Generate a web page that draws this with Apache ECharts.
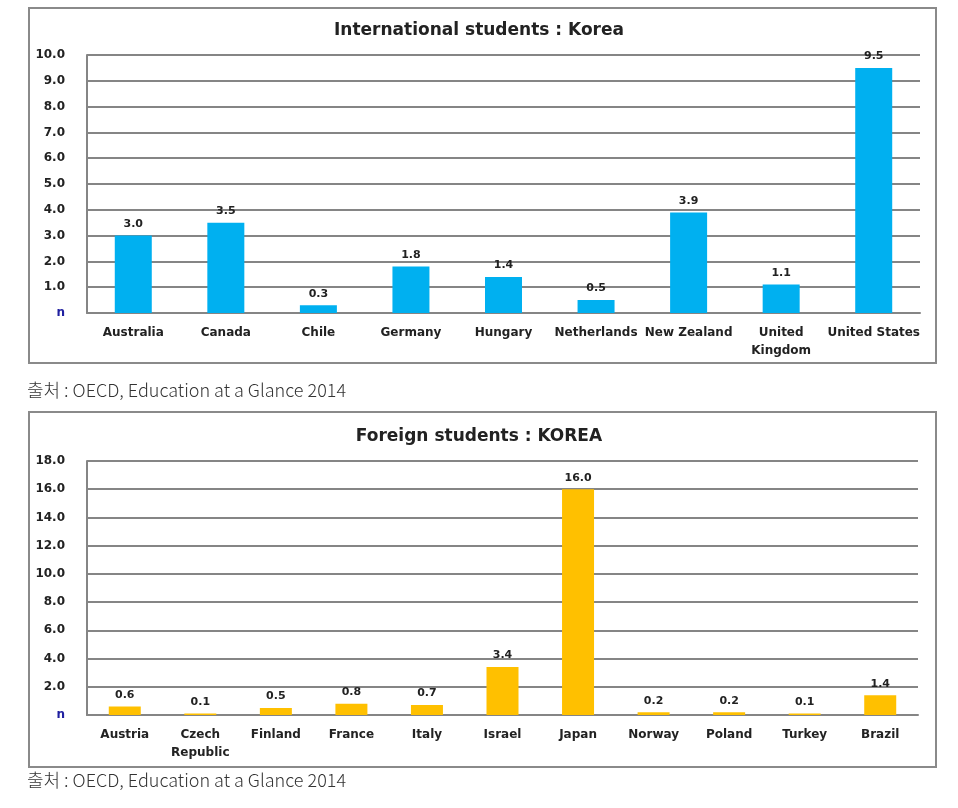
<!DOCTYPE html>
<html>
<head>
<meta charset="utf-8">
<script src="https://cdn.jsdelivr.net/npm/echarts@6/dist/echarts.min.js"></script>
<style>
  html, body { margin: 0; padding: 0; background: #fff; }
  #chart { width: 958px; height: 808px; }
</style>
</head>
<body>
<div id="chart"></div>
<script>
// two bar charts stacked, each in its own grey box with a source line below
const intlCountries = ['Australia', 'Canada', 'Chile', 'Germany', 'Hungary', 'Netherlands', 'New Zealand', 'United\nKingdom', 'United States'];
const intlValues = [3.0, 3.5, 0.3, 1.8, 1.4, 0.5, 3.9, 1.1, 9.5];
const foreignCountries = ['Austria', 'Czech\nRepublic', 'Finland', 'France', 'Italy', 'Israel', 'Japan', 'Norway', 'Poland', 'Turkey', 'Brazil'];
const foreignValues = [0.6, 0.1, 0.5, 0.8, 0.7, 3.4, 16.0, 0.2, 0.2, 0.1, 1.4];
const titles = ['International students : Korea', 'Foreign students : KOREA'];
const sourceText = '출처 : OECD, Education at a Glance 2014';

const font = 'DejaVu Sans';
const gridCol = '#858585';

const chart = echarts.init(document.getElementById('chart'));

const yAxisBase = (gridIndex, max, interval) => ({
    type: 'value',
    gridIndex: gridIndex,
    min: 0,
    max: max,
    interval: interval,
    axisLine: { show: true, lineStyle: { color: gridCol, width: 2 } },
    axisTick: { show: false },
    splitLine: { lineStyle: { color: gridCol, width: 2 } },
    axisLabel: {
        margin: 22,
        fontFamily: font,
        fontWeight: 'bold',
        fontSize: 12,
        color: '#222',
        formatter: v => v === 0 ? '{n|n}' : v.toFixed(1),
        rich: { n: { color: '#2020a0', fontWeight: 'bold', fontSize: 12, fontFamily: font } }
    }
});

const xAxisBase = (gridIndex, data) => ({
    type: 'category',
    gridIndex: gridIndex,
    data: data,
    axisLine: { show: true, lineStyle: { color: gridCol, width: 2 } },
    axisTick: { show: false },
    axisLabel: {
        margin: 11,
        interval: 0,
        fontFamily: font,
        fontWeight: 'bold',
        fontSize: 12,
        color: '#222',
        lineHeight: 18
    }
});

const barLabel = {
    show: true,
    position: 'top',
    distance: 6,
    fontFamily: font,
    fontWeight: 'bold',
    fontSize: 11,
    color: '#222',
    formatter: p => p.value.toFixed(1)
};

const option = {
    backgroundColor: '#fff',
    animation: false,
    title: [
        { text: titles[0], left: 'center', top: 17, textStyle: { fontFamily: font, fontWeight: 'bold', fontSize: 17, color: '#222' } },
        { text: titles[1], left: 'center', top: 423, textStyle: { fontFamily: font, fontWeight: 'bold', fontSize: 17, color: '#222' } }
    ],
    graphic: [
        { type: 'rect', shape: { x: 29, y: 8, width: 907, height: 355 }, style: { fill: 'none', stroke: '#8a8a8a', lineWidth: 2 }, z: -1 },
        { type: 'rect', shape: { x: 29, y: 412, width: 907, height: 355 }, style: { fill: 'none', stroke: '#8a8a8a', lineWidth: 2 }, z: -1 },
        { type: 'text', left: 27, top: 381, style: { text: sourceText, fontFamily: 'Noto Sans CJK KR', fontSize: 18, fontWeight: 300, fill: '#333' } },
        { type: 'text', left: 27, top: 771, style: { text: sourceText, fontFamily: 'Noto Sans CJK KR', fontSize: 18, fontWeight: 300, fill: '#333' } }
    ],
    grid: [
        { left: 87, top: 55, width: 833, height: 258 },
        { left: 87, top: 461, width: 831, height: 254 }
    ],
    xAxis: [xAxisBase(0, intlCountries), xAxisBase(1, foreignCountries)],
    yAxis: [yAxisBase(0, 10, 1), yAxisBase(1, 18, 2)],
    series: [
        {
            type: 'bar',
            xAxisIndex: 0,
            yAxisIndex: 0,
            data: intlValues,
            barWidth: 37,
            itemStyle: { color: '#00b0f0' },
            label: barLabel
        },
        {
            type: 'bar',
            xAxisIndex: 1,
            yAxisIndex: 1,
            data: foreignValues,
            barWidth: 32,
            itemStyle: { color: '#ffc000' },
            label: barLabel
        }
    ]
};

chart.setOption(option);
</script>
</body>
</html>
